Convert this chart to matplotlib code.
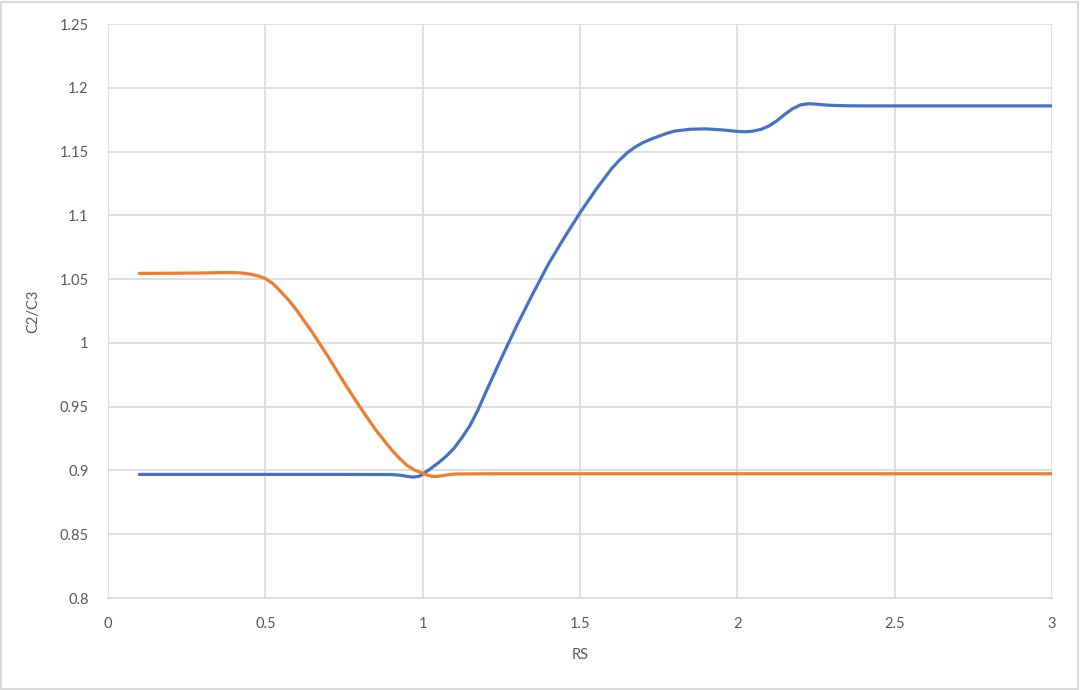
import numpy as np
import matplotlib.pyplot as plt
from matplotlib.patches import Rectangle

plt.rcParams['font.family'] = ['Lato', 'DejaVu Sans']

# blue series
rs_blue = [0.1, 0.3, 0.5, 0.7, 0.9, 0.93, 0.95, 0.97, 0.99, 1.0, 1.02, 1.05, 1.075, 1.1,
           1.125, 1.15, 1.175, 1.2, 1.25, 1.3, 1.35, 1.4, 1.45, 1.5, 1.55, 1.6, 1.625,
           1.65, 1.675, 1.7, 1.725, 1.75, 1.775, 1.8, 1.85, 1.9, 1.95, 2.0, 2.025,
           2.05, 2.075, 2.1, 2.125, 2.15, 2.175, 2.2, 2.225, 2.25, 2.275, 2.3, 2.35,
           2.4, 2.6, 2.8, 3.0]
c_blue = [0.8969, 0.8969, 0.8969, 0.8969, 0.8968, 0.8962, 0.8954, 0.8948, 0.8955, 0.8972,
          0.9005, 0.9060, 0.9112, 0.9175, 0.9258, 0.9350, 0.9470, 0.9610, 0.9880,
          1.0140, 1.0385, 1.0620, 1.0825, 1.1020, 1.1200, 1.1365, 1.1432, 1.1490,
          1.1535, 1.1570, 1.1597, 1.1620, 1.1642, 1.1660, 1.1675, 1.1678, 1.1670,
          1.1658, 1.1655, 1.1660, 1.1674, 1.1700, 1.1740, 1.1790, 1.1835, 1.1865,
          1.1875, 1.1872, 1.1866, 1.1862, 1.1859, 1.1858, 1.1858, 1.1858, 1.1858]

# orange series
rs_orange = [0.1, 0.2, 0.3, 0.38, 0.42, 0.45, 0.475, 0.5, 0.525, 0.55, 0.575, 0.6,
             0.65, 0.7, 0.75, 0.8, 0.85, 0.9, 0.925, 0.95, 0.975, 1.0, 1.015, 1.03,
             1.045, 1.06, 1.08, 1.1, 1.2, 1.5, 2.0, 2.5, 3.0]
c_orange = [1.0545, 1.0546, 1.0548, 1.0552, 1.0549, 1.0540, 1.0526, 1.0505, 1.0462,
            1.0400, 1.0333, 1.0255, 1.0080, 0.9890, 0.9690, 0.9500, 0.9320, 0.9165,
            0.9098, 0.9040, 0.9002, 0.8978, 0.8963, 0.8954, 0.8953, 0.8958, 0.8966,
            0.8972, 0.8974, 0.8974, 0.8974, 0.8974, 0.8974]

fig = plt.figure(figsize=(10.8, 6.9), dpi=100)
ax = fig.add_axes([108/1080, 1 - 598/690, (1052-108)/1080, (598-24)/690])

ax.plot(rs_blue, c_blue, color='#4472C4', lw=2.3, solid_joinstyle='round', solid_capstyle='round', zorder=3)
ax.plot(rs_orange, c_orange, color='#ED7D31', lw=2.3, solid_joinstyle='round', solid_capstyle='round', zorder=3)

ax.set_xlim(0, 3)
ax.set_ylim(0.8, 1.25)
ax.set_xticks(np.arange(0, 3.01, 0.5))
ax.set_yticks(np.arange(0.8, 1.2501, 0.05))
ax.set_xticklabels(['0', '0.5', '1', '1.5', '2', '2.5', '3'])
ax.set_yticklabels(['0.8', '0.85', '0.9', '0.95', '1', '1.05', '1.1', '1.15', '1.2', '1.25'])
ax.grid(True, color='#D9D9D9', lw=1.2)
ax.set_axisbelow(True)
for s in ax.spines.values():
    s.set_visible(False)
ax.spines['bottom'].set_visible(True)
ax.spines['bottom'].set_color('#D9D9D9')
ax.spines['bottom'].set_linewidth(1.2)
ax.tick_params(length=0, labelsize=10.5, labelcolor='#595959')
ax.tick_params(axis='x', pad=14)
ax.tick_params(axis='y', pad=14)
ax.set_xlabel('RS', fontsize=10.5, color='#595959', labelpad=12)
ax.set_ylabel('C2/C3', fontsize=10.5, color='#595959', labelpad=14)

fig.patches.append(Rectangle((1/1080, 1/690), 1 - 3/1080, 1 - 3/690, transform=fig.transFigure,
                             fill=False, edgecolor='#D9D9D9', lw=1.5))

fig.savefig('out.png', dpi=100)
